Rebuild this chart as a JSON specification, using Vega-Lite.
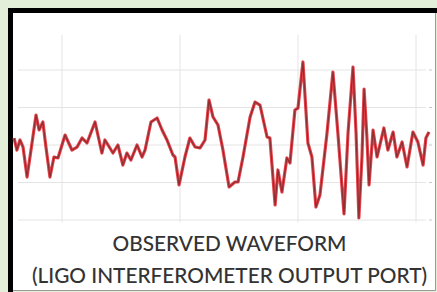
{
  "$schema": "https://vega.github.io/schema/vega-lite/v6.json",
  "autosize": "none",
  "width": 425,
  "height": 280,
  "padding": {"left": 10, "top": 10, "right": 2, "bottom": 2},
  "background": "#e3efd9",
  "config": {
    "view": {"fill": "#ffffff", "stroke": "#9a9a9a", "strokeWidth": 1},
    "axis": {"ticks": false, "labels": false, "grid": false, "title": null, "domainColor": "#000000", "domainWidth": 5, "domainCap": "square"}
  },
  "title": {
    "text": ["OBSERVED WAVEFORM", "(LIGO INTERFEROMETER OUTPUT PORT)"],
    "orient": "bottom",
    "anchor": "middle",
    "offset": -55,
    "dx": 7,
    "font": "Lato",
    "fontSize": 20.8,
    "fontWeight": 500,
    "color": "#333333",
    "lineHeight": 31.5
  },
  "datasets": {
    "strain": [
      {"t": 0.2797, "h": 0.093}, {"t": 0.2809, "h": -0.067}, {"t": 0.2822, "h": 0.067}, {"t": 0.2835, "h": -0.027},
      {"t": 0.2852, "h": -0.427}, {"t": 0.2873, "h": 0.027}, {"t": 0.2890, "h": 0.4}, {"t": 0.2903, "h": 0.2},
      {"t": 0.2919, "h": 0.307}, {"t": 0.2932, "h": -0.027}, {"t": 0.2949, "h": -0.427}, {"t": 0.2966, "h": -0.16},
      {"t": 0.2983, "h": -0.173}, {"t": 0.3013, "h": 0.133}, {"t": 0.3042, "h": -0.067}, {"t": 0.3064, "h": -0.027},
      {"t": 0.3085, "h": 0.093}, {"t": 0.3106, "h": 0.027}, {"t": 0.3140, "h": 0.307}, {"t": 0.3169, "h": -0.107},
      {"t": 0.3182, "h": 0.067}, {"t": 0.3203, "h": -0.04}, {"t": 0.3216, "h": -0.107}, {"t": 0.3237, "h": 0.0},
      {"t": 0.3258, "h": -0.267}, {"t": 0.3275, "h": -0.107}, {"t": 0.3292, "h": -0.2}, {"t": 0.3318, "h": 0.0},
      {"t": 0.3339, "h": -0.16}, {"t": 0.3352, "h": -0.067}, {"t": 0.3377, "h": 0.307}, {"t": 0.3403, "h": 0.36},
      {"t": 0.3424, "h": 0.2}, {"t": 0.3445, "h": 0.067}, {"t": 0.3470, "h": -0.133}, {"t": 0.3479, "h": -0.16},
      {"t": 0.3496, "h": -0.533}, {"t": 0.3521, "h": -0.16}, {"t": 0.3542, "h": 0.093}, {"t": 0.3564, "h": -0.027},
      {"t": 0.3585, "h": -0.04}, {"t": 0.3606, "h": 0.067}, {"t": 0.3623, "h": 0.6}, {"t": 0.3640, "h": 0.373},
      {"t": 0.3661, "h": 0.267}, {"t": 0.3682, "h": -0.067}, {"t": 0.3708, "h": -0.56}, {"t": 0.3733, "h": -0.493},
      {"t": 0.3746, "h": -0.493}, {"t": 0.3767, "h": -0.16}, {"t": 0.3797, "h": 0.373}, {"t": 0.3818, "h": 0.573},
      {"t": 0.3839, "h": 0.533}, {"t": 0.3869, "h": 0.107}, {"t": 0.3881, "h": 0.093}, {"t": 0.3903, "h": -0.8},
      {"t": 0.3915, "h": -0.333}, {"t": 0.3932, "h": -0.627}, {"t": 0.3953, "h": -0.173}, {"t": 0.3966, "h": -0.24},
      {"t": 0.3987, "h": 0.467}, {"t": 0.4000, "h": 0.493}, {"t": 0.4021, "h": 1.107}, {"t": 0.4042, "h": 0.027},
      {"t": 0.4059, "h": -0.16}, {"t": 0.4076, "h": -0.827}, {"t": 0.4093, "h": -0.667}, {"t": 0.4123, "h": 0.16},
      {"t": 0.4148, "h": 0.973}, {"t": 0.4169, "h": 0.16}, {"t": 0.4195, "h": -0.92}, {"t": 0.4212, "h": 0.16},
      {"t": 0.4233, "h": 1.04}, {"t": 0.4246, "h": 0.16}, {"t": 0.4258, "h": -0.973}, {"t": 0.4271, "h": -0.16},
      {"t": 0.4280, "h": 0.747}, {"t": 0.4292, "h": 0.107}, {"t": 0.4301, "h": -0.533}, {"t": 0.4318, "h": 0.2},
      {"t": 0.4335, "h": -0.16}, {"t": 0.4364, "h": 0.227}, {"t": 0.4381, "h": -0.067}, {"t": 0.4403, "h": 0.173},
      {"t": 0.4419, "h": -0.16}, {"t": 0.4441, "h": 0.04}, {"t": 0.4462, "h": -0.293}, {"t": 0.4487, "h": 0.173},
      {"t": 0.4508, "h": 0.04}, {"t": 0.4530, "h": -0.267}, {"t": 0.4542, "h": 0.093}, {"t": 0.4555, "h": 0.173}
    ],
    "timeGrid": [{"t": 0.30}, {"t": 0.35}, {"t": 0.40}, {"t": 0.45}],
    "strainGrid": [{"h": -1.0}, {"h": -0.5}, {"h": 0.0}, {"h": 0.5}, {"h": 1.0}]
  },
  "layer": [
    {
      "data": {"name": "timeGrid"},
      "mark": {"type": "rule", "color": "#e4e4e4", "strokeWidth": 1},
      "encoding": {
        "x": {"field": "t", "type": "quantitative", "scale": {"domain": [0.27797, 0.45805], "nice": false, "zero": false}, "axis": {"orient": "top"}},
        "y": {"datum": -1.03, "type": "quantitative", "scale": {"domain": [-1.9333, 1.8], "nice": false, "zero": false}, "axis": {"orient": "left"}},
        "y2": {"datum": 1.47}
      }
    },
    {
      "data": {"name": "strainGrid"},
      "mark": {"type": "rule", "color": "#e4e4e4", "strokeWidth": 1},
      "encoding": {
        "y": {"field": "h", "type": "quantitative", "scale": {"domain": [-1.9333, 1.8], "nice": false, "zero": false}, "axis": {"orient": "left"}},
        "x": {"datum": 0.2814, "type": "quantitative", "scale": {"domain": [0.27797, 0.45805], "nice": false, "zero": false}, "axis": {"orient": "top"}},
        "x2": {"datum": 0.4542}
      }
    },
    {
      "data": {"name": "strainGrid"},
      "mark": {"type": "rule", "color": "#c8c8c8", "strokeWidth": 1},
      "encoding": {
        "y": {"field": "h", "type": "quantitative", "scale": {"domain": [-1.9333, 1.8], "nice": false, "zero": false}, "axis": {"orient": "left"}},
        "x": {"datum": 0.4555, "type": "quantitative", "scale": {"domain": [0.27797, 0.45805], "nice": false, "zero": false}, "axis": {"orient": "top"}},
        "x2": {"datum": 0.4568}
      }
    },
    {
      "data": {"name": "strain"},
      "mark": {"type": "line", "color": "#e8434b", "strokeWidth": 3.2, "strokeJoin": "round"},
      "encoding": {
        "x": {"field": "t", "type": "quantitative", "scale": {"domain": [0.27797, 0.45805], "nice": false, "zero": false}, "axis": {"orient": "top"}},
        "y": {"field": "h", "type": "quantitative", "scale": {"domain": [-1.9333, 1.8], "nice": false, "zero": false}, "axis": {"orient": "left"}}
      }
    },
    {
      "data": {"name": "strain"},
      "mark": {"type": "line", "color": "#8e2f33", "strokeWidth": 1.3, "strokeJoin": "round"},
      "encoding": {
        "x": {"field": "t", "type": "quantitative", "scale": {"domain": [0.27797, 0.45805], "nice": false, "zero": false}, "axis": {"orient": "top"}},
        "y": {"field": "h", "type": "quantitative", "scale": {"domain": [-1.9333, 1.8], "nice": false, "zero": false}, "axis": {"orient": "left"}}
      }
    }
  ]
}
